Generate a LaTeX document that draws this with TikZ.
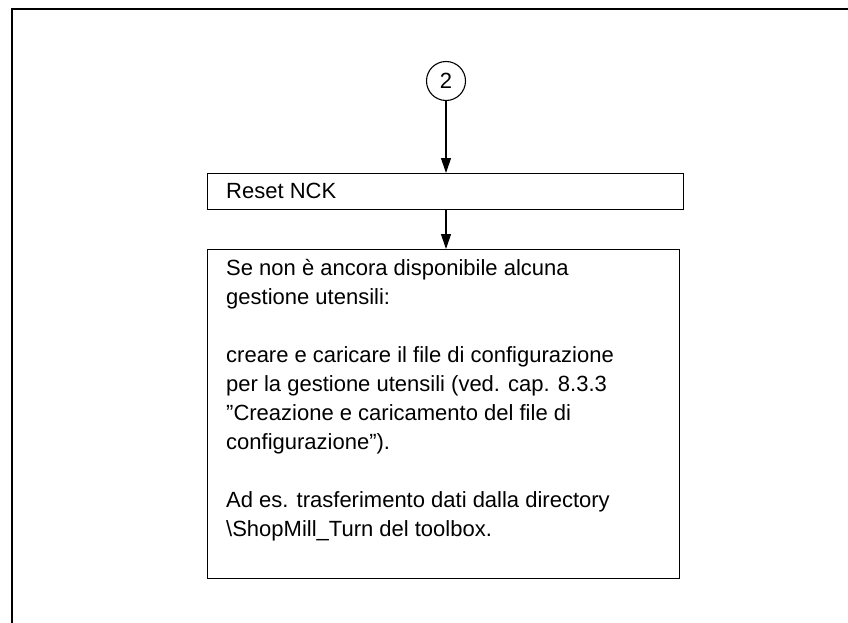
\documentclass[tikz,border=0pt]{standalone}
\usepackage{fontspec}
\setmainfont{Liberation Sans}
\usetikzlibrary{arrows.meta}
\begin{document}
\begin{tikzpicture}[x=1pt,y=-1pt,
  box/.style={draw,line width=1.3pt,inner sep=0pt,anchor=north west},
  flow/.style={line width=1.1pt,-{Triangle[length=15pt,width=10pt]}},
  txt/.style={font=\fontsize{22}{29}\selectfont,inner sep=0pt,align=left}]
\useasboundingbox (0,0) rectangle (848,623);
% page frame
\draw[line width=1.6pt] (12,623) -- (12,9) -- (848,9);
% connector circle
\node[circle,draw,line width=1.1pt,minimum size=39pt,inner sep=0pt,txt] (c2) at (446,81) {2};
% step boxes
\node[box,minimum width=476pt,minimum height=36pt] (reset) at (207,173) {};
\node[txt,anchor=base west] (resettxt) at (226,198) {Reset NCK};
\node[box,minimum width=472pt,minimum height=329pt] (info) at (207,249) {};
\node[txt,anchor=north west] (infotxt) at (226,259) {%
Se non è ancora disponibile alcuna\\
gestione utensili:\\[29pt]
creare e caricare il file di configurazione\\
per la gestione utensili (ved. cap. 8.3.3\\
”Creazione e caricamento del file di\\
configurazione”).\\[29pt]
Ad es. trasferimento dati dalla directory\\
\textbackslash ShopMill\_Turn del toolbox.};
% arrows
\draw[flow] (c2.south) -- (c2.south |- reset.north);
\draw[flow] (c2.south |- reset.south) -- (c2.south |- info.north);
\end{tikzpicture}
\end{document}
